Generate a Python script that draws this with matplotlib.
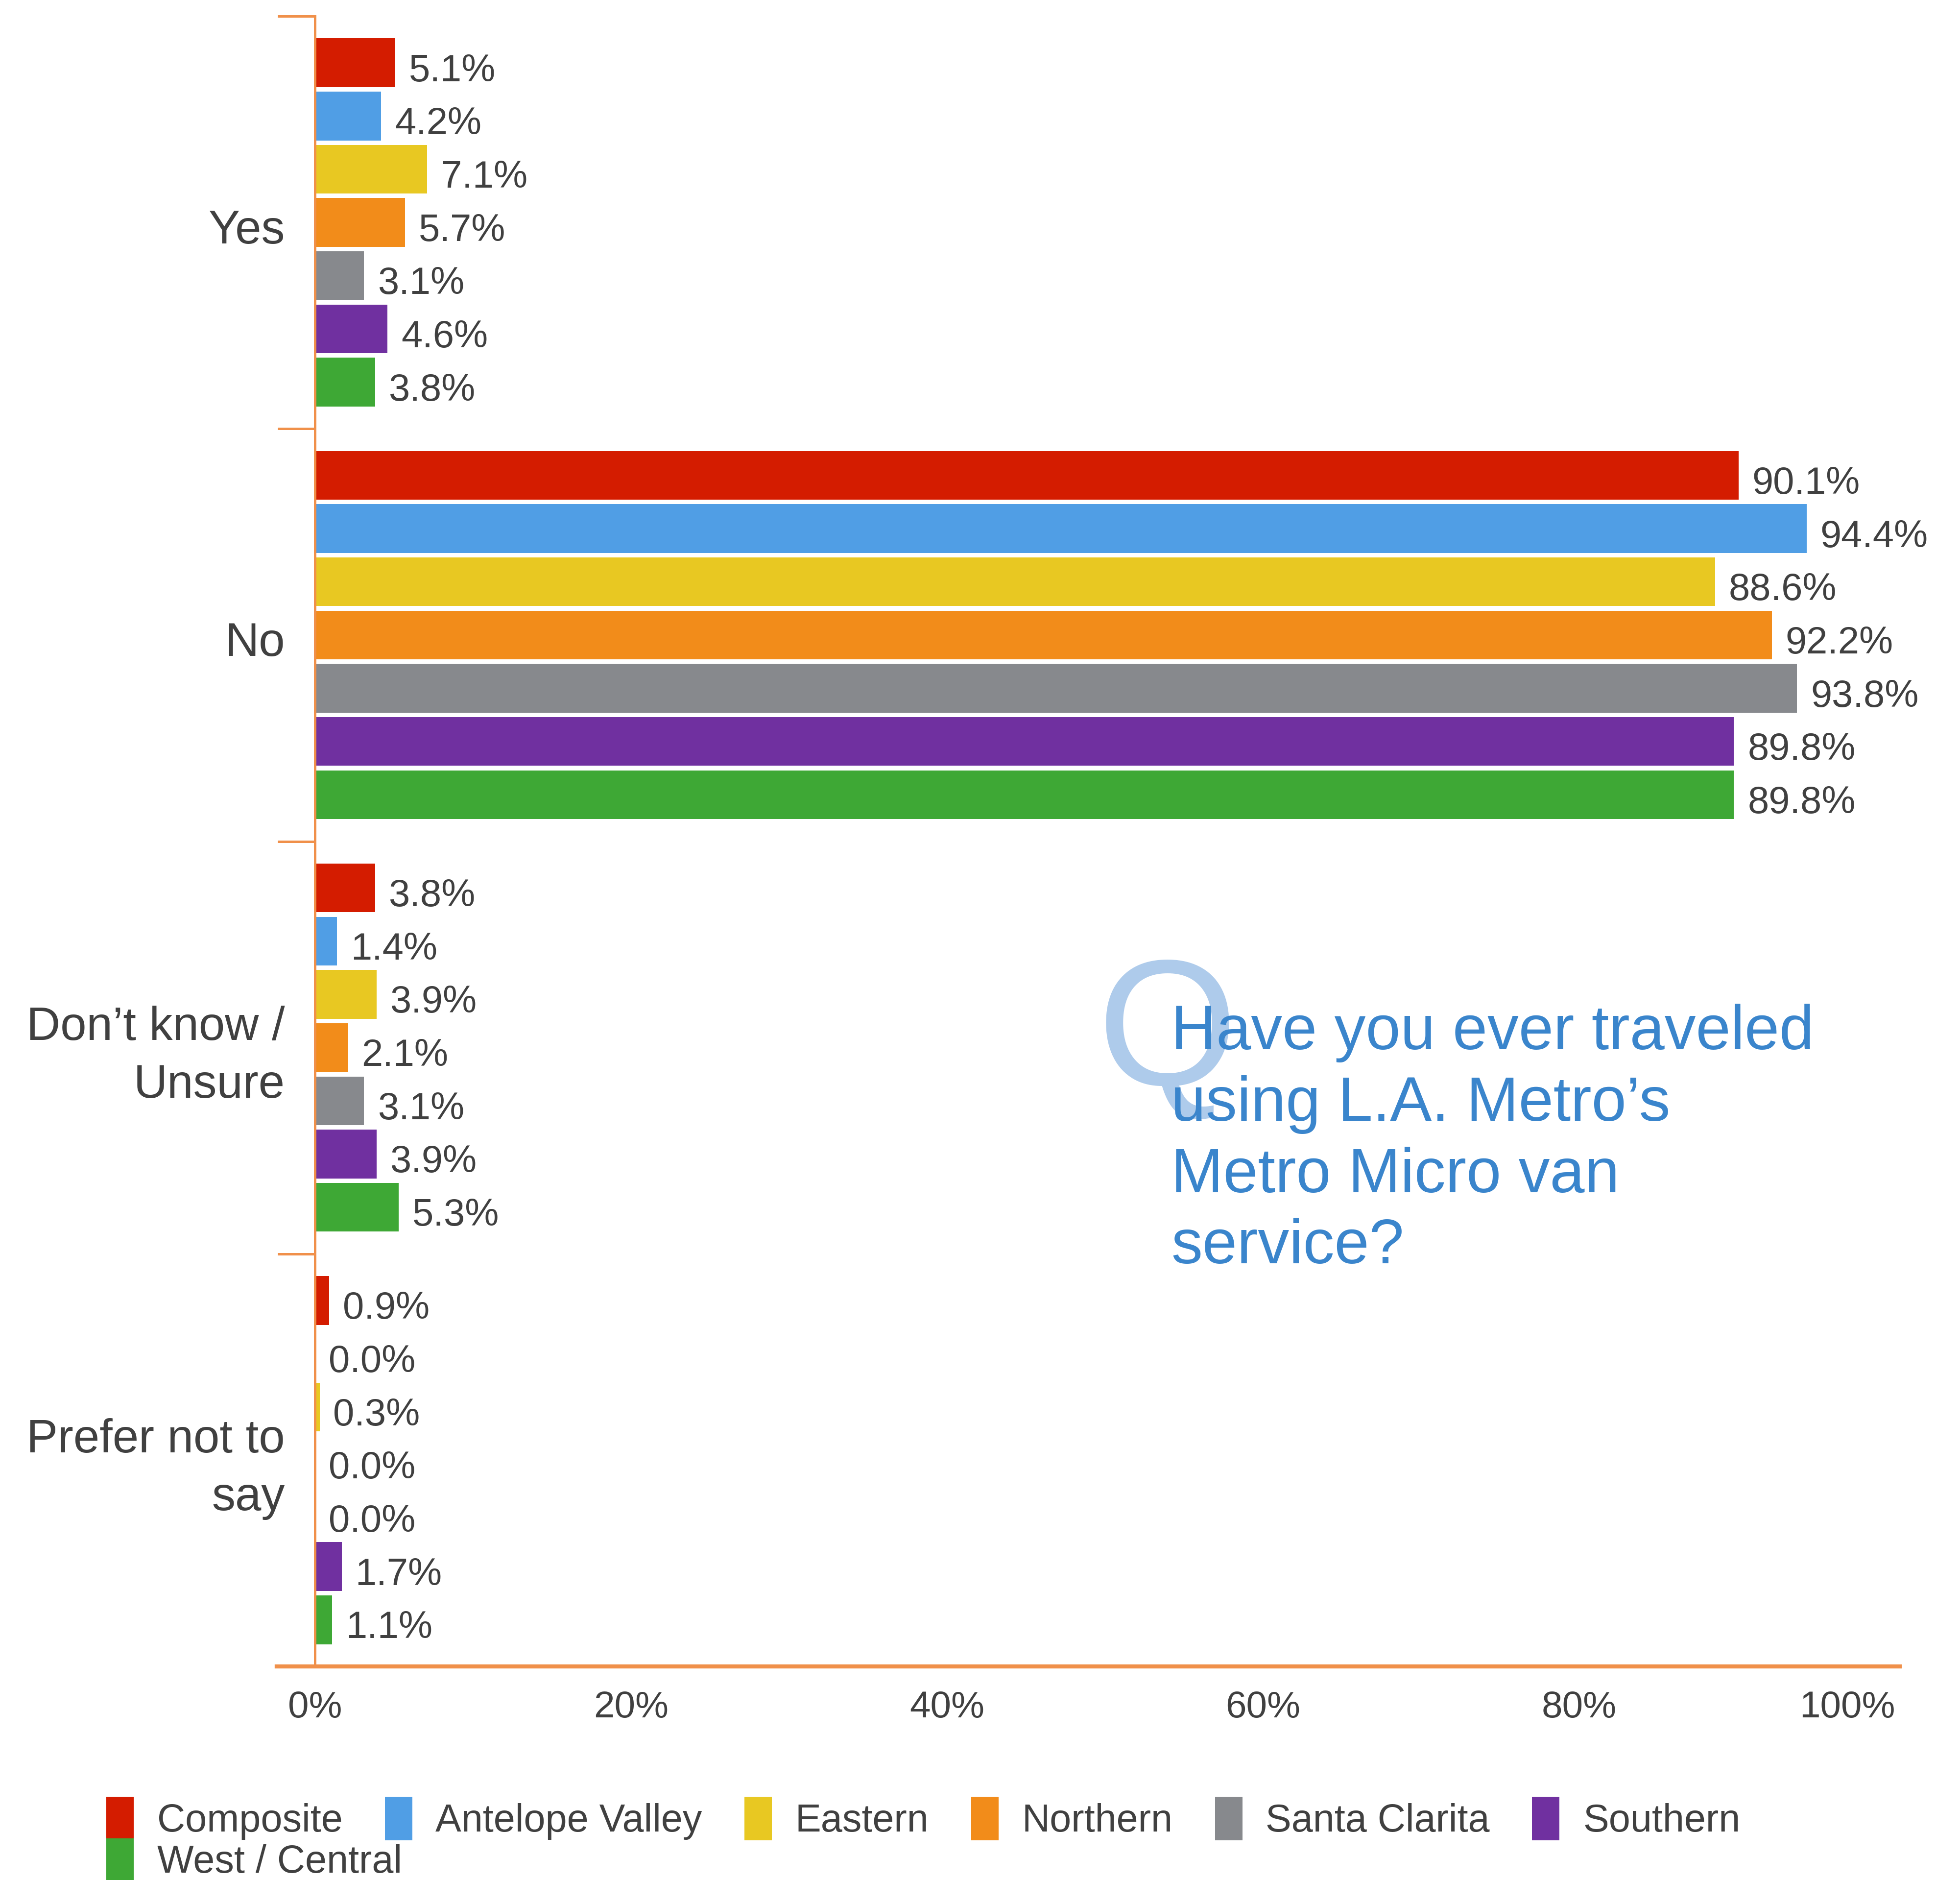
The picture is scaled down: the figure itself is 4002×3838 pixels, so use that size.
import numpy as np
import matplotlib
matplotlib.use("Agg")
import matplotlib.pyplot as plt

plt.rcParams['font.family'] = ['Liberation Sans', 'DejaVu Sans']

# survey answers (rows) and regions (series), values in %
answers = ["Yes", "No", "Don’t know /\nUnsure", "Prefer not to\nsay"]
regions = ["Composite", "Antelope Valley", "Eastern", "Northern",
           "Santa Clarita", "Southern", "West / Central"]
composite = [5.1, 90.1, 3.8, 0.9]
antelope_valley = [4.2, 94.4, 1.4, 0.0]
eastern = [7.1, 88.6, 3.9, 0.3]
northern = [5.7, 92.2, 2.1, 0.0]
santa_clarita = [3.1, 93.8, 3.1, 0.0]
southern = [4.6, 89.8, 3.9, 1.7]
west_central = [3.8, 89.8, 5.3, 1.1]
series = [composite, antelope_valley, eastern, northern,
          santa_clarita, southern, west_central]

colors = ["#d41c00", "#509ee5", "#e8c822", "#f28c1a",
          "#87898d", "#7030a0", "#3ea835"]
question = "Have you ever traveled\nusing L.A. Metro’s\nMetro Micro van\nservice?"

TEXT = "#404040"
AXIS = "#f0904a"

fig = plt.figure(figsize=(40.02, 38.38), dpi=100)
ax = fig.add_axes([0.1413, 0.1136, 0.828, 0.8778])

pitch = 0.129
bar_h = 0.118
ypos = np.arange(len(answers))
for j, (name, vals, col) in enumerate(zip(regions, series, colors)):
    y = ypos + (j - 3) * pitch
    ax.barh(y, vals, height=bar_h, color=col, label=name)
    for yy, v in zip(y, vals):
        ax.annotate(f"{v:.1f}%", (v, yy), xytext=(20, -27), textcoords="offset points",
                    ha="left", va="baseline", fontsize=56, color=TEXT)

ax.set_ylim(len(answers) - 0.5, -0.5)
ax.set_xlim(-2.4, 100.3)

# orange separator ticks between the answer groups
ax.set_yticks([])
ax.set_yticks(np.arange(len(answers) + 1) - 0.5, minor=True)
ax.tick_params(axis="y", which="minor", length=55, width=3.6, color=AXIS,
               direction="out", labelleft=False)

# answer labels, right-aligned just left of the axis line
for yy, txt in zip(ypos, answers):
    ax.annotate(txt, (0.005, yy), xycoords=ax.get_yaxis_transform(),
                xytext=(0, -13), textcoords="offset points",
                ha="right", va="center", multialignment="right",
                fontsize=69, color=TEXT, linespacing=1.4)

xt = [0, 20, 40, 60, 80, 100]
ax.tick_params(axis="x", length=0, pad=35, labelsize=55, labelcolor=TEXT)
ax.set_xticks(xt)
ax.set_xticklabels([f"{t}%" for t in xt], fontsize=55, color=TEXT)
ax.get_xticklabels()[-1].set_horizontalalignment("right")

for s in ["top", "right"]:
    ax.spines[s].set_visible(False)
ax.spines["left"].set_position(("data", 0))
ax.spines["left"].set_color(AXIS)
ax.spines["left"].set_linewidth(3.6)
ax.spines["bottom"].set_color(AXIS)
ax.spines["bottom"].set_linewidth(6)

# question box with the faint "Q" mark behind it
fig.text(0.5957, 0.4475, "Q", fontsize=265, color="#aecbeb",
         ha="center", va="center", zorder=1)
fig.text(0.5975, 0.466, question, fontsize=92, color="#3a85cc",
         ha="left", va="top", linespacing=1.275, zorder=2)

handles, labels = ax.get_legend_handles_labels()
leg_kw = dict(frameon=False, fontsize=57, handlelength=0.71, handleheight=1.35,
              handletextpad=0.6, columnspacing=1.09, borderpad=0, borderaxespad=0,
              labelcolor=TEXT, loc="center left")
fig.legend(handles[:6], labels[:6], ncol=6, bbox_to_anchor=(0.0542, 0.0326), **leg_kw)
fig.legend(handles[6:], labels[6:], ncol=1, bbox_to_anchor=(0.0542, 0.0107), **leg_kw)

fig.savefig("out.png", dpi=100, facecolor="white")
